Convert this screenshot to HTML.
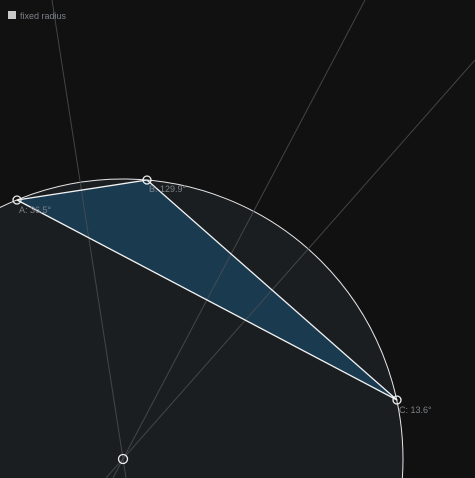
<!DOCTYPE html>
<html><head><meta charset="utf-8"><style>
html,body{margin:0;padding:0;background:#111111;overflow:hidden;width:475px;height:478px}
svg{display:block}
text{font-family:"Liberation Sans",sans-serif;font-size:9px;fill:#7d8186}
</style></head><body>
<svg width="475" height="478" viewBox="0 0 475 478">
<g>
<rect x="8" y="11" width="8" height="8" fill="#c8c8c8"/>
<text x="20" y="19">fixed radius</text>
</g>
<circle cx="123" cy="459" r="280" fill="#1b1e21" stroke="#e6e6e6" stroke-width="1"/>
<polygon points="17,200 147,180 397,400" fill="#1a3a50" stroke="none"/>
<g stroke="#4a4d50" stroke-width="1" stroke-opacity="0.85">
<line x1="52" y1="0" x2="126" y2="478"/>
<line x1="365" y1="0" x2="113" y2="478"/>
<line x1="475" y1="60" x2="106" y2="478"/>
</g>
<polygon points="17,200 147,180 397,400" fill="none" stroke="#f2f2f2" stroke-width="1.3" stroke-linejoin="round"/>
<g fill="none" stroke="#eeeeee" stroke-width="1.3">
<circle cx="17" cy="200" r="4"/>
<circle cx="147" cy="180" r="4"/>
<circle cx="397" cy="400" r="4"/>
<circle cx="123" cy="459" r="4.5"/>
</g>
<text x="19" y="213">A: 36.5°</text>
<text x="149" y="192">B: 129.9°</text>
<text x="399" y="413">C: 13.6°</text>
</svg>
</body></html>
